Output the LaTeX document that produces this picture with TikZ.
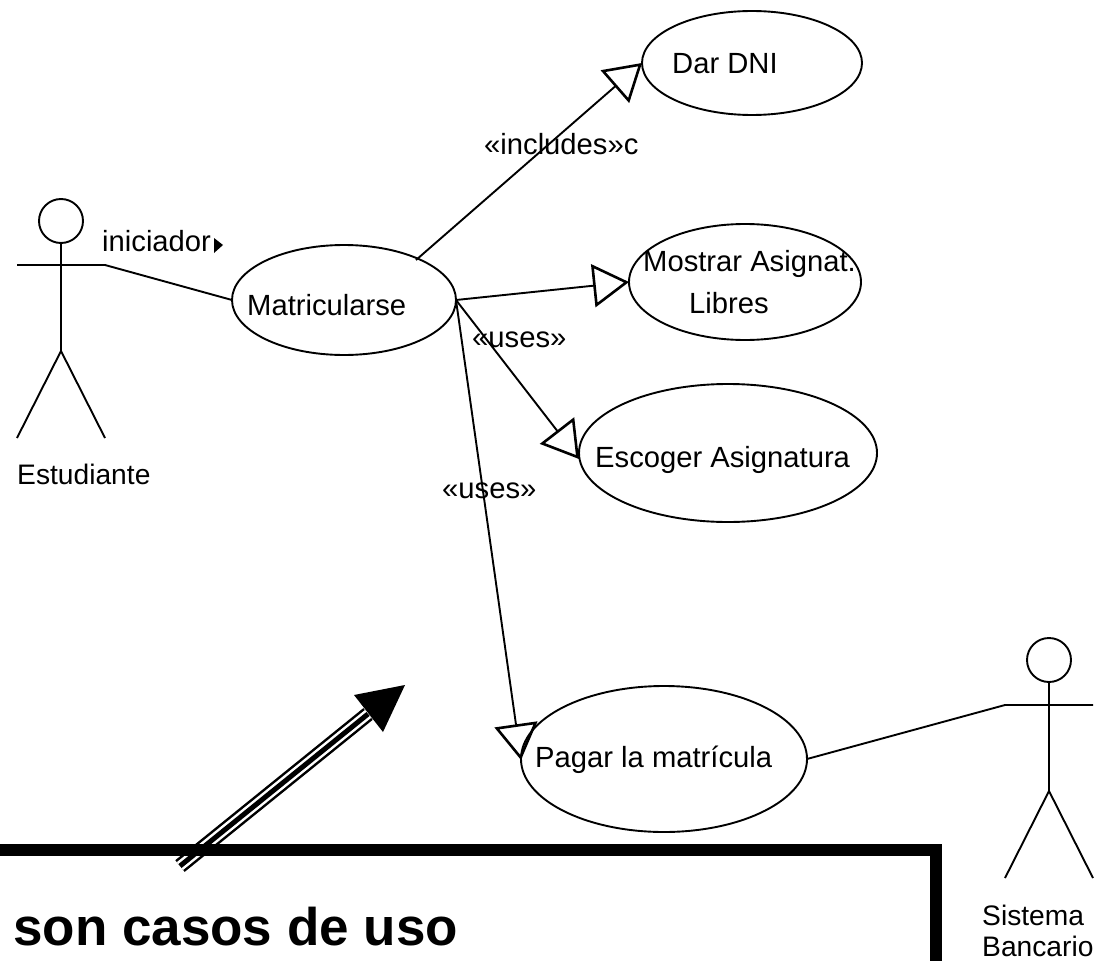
\documentclass[tikz,border=0pt]{standalone}
\usepackage{fontspec}
\setmainfont{Liberation Sans}
\usetikzlibrary{arrows.meta,shapes.geometric}
\tikzset{
  x=1pt,y=-1pt,
  ln/.style={line width=1.9pt,black},
  usecase/.style={draw,ellipse,line width=1.9pt,inner sep=0pt,outer sep=0pt},
  lbl/.style={font=\fontsize{29.2}{34}\selectfont,inner sep=0pt,anchor=west},
  small/.style={lbl,font=\fontsize{28.2}{34}\selectfont},
  gen/.style={ln,-{Triangle[open,length=36pt,width=43pt,line width=2.6pt]}},
}
\begin{document}
\begin{tikzpicture}
\useasboundingbox (0,0) rectangle (1099,960);
\clip (0,0) rectangle (1099,960);
% use cases
\node[usecase,minimum width=224pt,minimum height=110pt] (mat) at (344,300) {};
\node[usecase,minimum width=220pt,minimum height=104pt] (dni) at (752,63) {};
\node[usecase,minimum width=232pt,minimum height=116pt] (mos) at (745,282) {};
\node[usecase,minimum width=298pt,minimum height=138pt] (esc) at (728,453) {};
\node[usecase,minimum width=286pt,minimum height=146pt] (pag) at (664,759) {};
\node[lbl] (tmat) at (247,305) {Matricularse};
\node[lbl] (tdni) at (672,64) {Dar DNI};
\node[lbl] (tmos) at (643,264) {Mostrar Asignat.};
\node[lbl] (tlib) at (689,303) {Libres};
\node[lbl] (tesc) at (595,460) {Escoger Asignatura};
\node[lbl] (tpag) at (535,760) {Pagar la matrícula};
% actor 1
\node[circle,draw,line width=1.9pt,minimum size=44pt,inner sep=0pt] (h1) at (61,221) {};
\coordinate (al1) at (17,265);
\coordinate (ar1) at (105,265);
\coordinate (hip1) at (61,351);
\coordinate (fl1) at (17,438);
\coordinate (fr1) at (105,438);
\draw[ln] (h1.south) -- (hip1) (al1) -- (ar1) (fl1) -- (hip1) -- (fr1);
\node[small] (t1) at (17,474) {Estudiante};
% actor 2
\node[circle,draw,line width=1.9pt,minimum size=44pt,inner sep=0pt] (h2) at (1049,660) {};
\coordinate (al2) at (1005,705);
\coordinate (ar2) at (1093,705);
\coordinate (hip2) at (1049,791);
\coordinate (fl2) at (1005,878);
\coordinate (fr2) at (1093,878);
\draw[ln] (h2.south) -- (hip2) (al2) -- (ar2) (fl2) -- (hip2) -- (fr2);
\node[small] (t2a) at (982,915) {Sistema};
\node[small] (t2b) at (982,946) {Bancario};
% connectors
\draw[ln] (ar1) -- (mat.west);
\draw[ln] (pag.east) -- (al2);
\coordinate (s1) at (416,260);
\coordinate (s2) at (456,300);
\coordinate (e1) at (642,63);
\coordinate (e3) at (579,459);
\coordinate (e4) at (521,760);
\draw[gen] (s1) -- (e1);
\draw[gen] (s2) -- (mos.west);
\draw[gen] (s2) -- (e3);
\draw[gen] (s2) -- (e4);
\node[lbl] (tinc) at (484,144) {«includes»c};
\node[lbl] (tus1) at (472,340) {«uses»};
\node[lbl] (tus2) at (442,491) {«uses»};
\node[lbl] (tini) at (102,241) {iniciador};
\coordinate (m1) at (214,238);
\coordinate (m2) at (223,245);
\coordinate (m3) at (214,253);
\fill (m1) -- (m2) -- (m3) -- cycle;
% big arrow
\coordinate (b0) at (180,866);
\coordinate (b1) at (368,714);
\coordinate (b2) at (405,685);
\coordinate (bh1) at (354,695);
\coordinate (bh2) at (383,732);
\draw[line width=15pt] (b0) -- (b1);
\draw[line width=10pt,white] (b0) -- (b1);
\draw[line width=5pt] (b0) -- (b1);
\fill (b2) -- (bh1) -- (bh2) -- cycle;
% box
\coordinate (c0) at (-20,850);
\coordinate (c1) at (936,850);
\coordinate (c2) at (936,980);
\draw[line width=12pt] (c0) -- (c1) -- (c2);
\node[lbl,font=\fontsize{53}{60}\bfseries\selectfont] (tbox) at (13,927) {son casos de uso};
\end{tikzpicture}
\end{document}
